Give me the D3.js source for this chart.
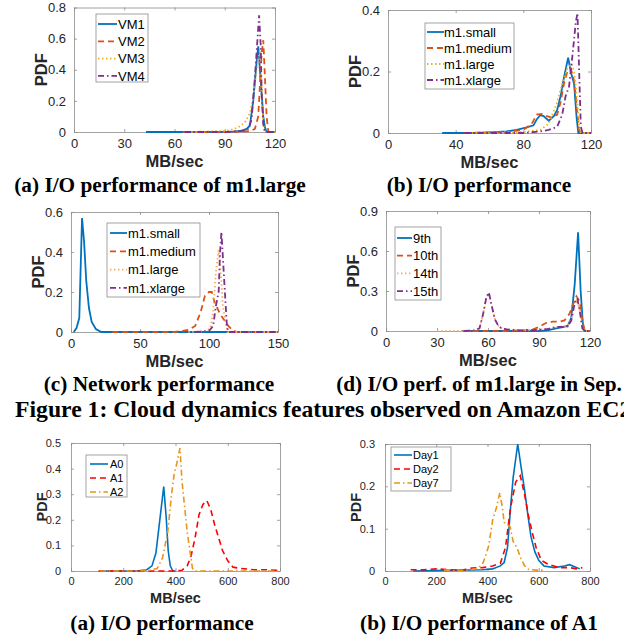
<!DOCTYPE html>
<html>
<head>
<meta charset="utf-8">
<script src="https://cdn.jsdelivr.net/npm/d3@7"></script>
<style>
body { margin: 0; background: #fff; }
text { font-family: "Liberation Sans", Arial, sans-serif; }
.cap { font-family: "Liberation Serif", "Times New Roman", serif; font-weight: bold; }
</style>
</head>
<body>
<div id="chart"></div>
<script>
// ---- data ([MB/sec, PDF]) ----
// (a) I/O performance of m1.large
var aVM1 = [[43,0],[60,0],[80,0],[95,0.002],[100,0.008],[103,0.02],[105,0.04],[107,0.2],[109,0.45],[110,0.55],[111,0.4],[112,0.25],[113,0.1],[114,0.03],[115,0],[120,0]];
var aVM2 = [[65,0],[90,0],[105,0.005],[108,0.02],[110,0.1],[111,0.3],[112,0.5],[113,0.59],[114,0.35],[115,0.1],[116,0],[120,0]];
var aVM3 = [[70,0],[85,0.005],[93,0.01],[98,0.03],[102,0.06],[105,0.12],[107,0.22],[109,0.4],[111,0.52],[112,0.3],[113,0.05],[114,0],[120,0]];
var aVM4 = [[66,0],[90,0],[100,0.005],[104,0.02],[106,0.08],[108,0.35],[110.5,0.75],[111.5,0.55],[112,0.25],[113,0.05],[114,0],[120,0]];

// (b) I/O performance
var bSmall = [[32,0],[50,0],[60,0.002],[70,0.005],[76,0.01],[82,0.018],[86,0.025],[88,0.045],[90,0.058],[92,0.055],[95,0.04],[98,0.055],[100,0.075],[102,0.12],[104,0.18],[106.5,0.245],[108,0.2],[110,0.16],[111.5,0.05],[112.5,0],[120,0]];
var bMedium = [[45,0],[70,0.003],[80,0.01],[85,0.03],[88,0.06],[91,0.062],[94,0.055],[97,0.05],[100,0.06],[102,0.1],[104,0.16],[106,0.2],[108,0.21],[110,0.17],[112,0.06],[113,0.01],[114,0],[120,0]];
var bLarge = [[45,0],[80,0.003],[90,0.01],[95,0.03],[100,0.1],[103,0.16],[106,0.21],[108.5,0.225],[110,0.2],[111.5,0.13],[113,0.02],[114,0],[120,0]];
var bXlarge = [[45,0],[80,0],[90,0.005],[95,0.01],[100,0.02],[103,0.06],[105,0.12],[107,0.15],[109,0.25],[111,0.36],[112,0.39],[113,0.2],[114,0.02],[115,0],[120,0]];

// (c) Network performance
var cSmall = [[2,0],[4,0.02],[6,0.07],[8,0.57],[9.5,0.45],[11,0.26],[13,0.12],[15,0.05],[18,0.015],[22,0],[150,0]];
var cMedium = [[30,0],[75,0],[80,0.005],[85,0.01],[90,0.03],[94,0.1],[97,0.18],[100,0.2],[102,0.2],[104,0.15],[106,0.12],[108,0.09],[111,0.06],[114,0.03],[117,0.01],[120,0],[150,0]];
var cLarge = [[85,0],[98,0.005],[101,0.02],[103,0.1],[105,0.3],[107,0.41],[109,0.25],[110,0.13],[112,0.05],[113.5,0],[150,0]];
var cXlarge = [[90,0],[100,0.005],[103,0.03],[105,0.13],[107,0.2],[108,0.4],[109,0.5],[110,0.38],[111.5,0.2],[113,0.03],[114,0],[150,0]];

// (d) I/O perf. of m1.large in Sep.
var d9 = [[45,0],[90,0],[95,0.005],[100,0.02],[104,0.03],[107,0.04],[109,0.1],[111,0.35],[113,0.74],[114.5,0.3],[116,0.02],[117,0],[120,0]];
var d10 = [[45,0],[70,0],[80,0.005],[86,0.01],[90,0.03],[94,0.06],[98,0.07],[102,0.07],[105,0.08],[108,0.13],[110,0.2],[112,0.26],[114,0.22],[115.5,0.08],[117,0],[120,0]];
var d14 = [[30,0],[45,0],[52,0.005],[55,0.02],[57,0.12],[59,0.25],[60.5,0.28],[62,0.2],[64,0.09],[66,0.04],[68,0.02],[72,0.01],[80,0.005],[90,0.01],[96,0.02],[100,0.03],[104,0.035],[107,0.04],[109,0.09],[111,0.2],[112.5,0.23],[114,0.15],[115.5,0.03],[117,0],[120,0]];
var d15 = [[46,0],[52,0.005],[55,0.02],[57,0.12],[59,0.25],[60.5,0.29],[62,0.2],[64,0.09],[66,0.04],[68,0.02],[72,0.01],[80,0.005],[90,0.008],[96,0.015],[100,0.03],[104,0.03],[107,0.035],[109,0.08],[111,0.21],[112.5,0.245],[114,0.15],[115.5,0.02],[117,0],[120,0]];

// (bottom a) I/O performance
var eA0 = [[110,0],[250,0],[290,0.005],[310,0.02],[325,0.07],[340,0.2],[355,0.33],[365,0.2],[372,0.08],[380,0.02],[390,0],[400,0]];
var eA1 = [[105,0],[250,0],[400,0],[425,0.003],[445,0.02],[460,0.06],[475,0.13],[490,0.22],[505,0.26],[520,0.275],[535,0.24],[550,0.18],[565,0.13],[580,0.08],[600,0.04],[620,0.015],[650,0.01],[700,0.005],[750,0.005],[800,0.002]];
var eA2 = [[110,0],[250,0],[300,0.003],[330,0.01],[350,0.05],[370,0.15],[385,0.3],[395,0.38],[405,0.42],[417,0.48],[425,0.35],[435,0.25],[445,0.15],[455,0.08],[465,0.01],[475,0],[800,0]];

// (bottom b) I/O performance of A1
var fDay1 = [[110,0],[200,0.001],[300,0.002],[380,0.003],[420,0.005],[450,0.012],[465,0.02],[478,0.055],[490,0.15],[500,0.22],[518,0.3],[530,0.25],[545,0.19],[558,0.13],[570,0.08],[585,0.045],[600,0.025],[620,0.012],[660,0.008],[700,0.012],[720,0.015],[740,0.01],[760,0.005]];
var fDay2 = [[100,0.003],[150,0.003],[200,0.005],[250,0.003],[300,0.002],[340,0.007],[380,0.008],[420,0.012],[450,0.018],[470,0.055],[490,0.15],[510,0.21],[528,0.225],[545,0.18],[560,0.13],[575,0.09],[590,0.055],[610,0.025],[640,0.015],[680,0.008],[720,0.008],[750,0.005],[770,0.008]];
var fDay7 = [[230,0.002],[280,0.001],[330,0.002],[360,0.006],[380,0.015],[395,0.04],[405,0.06],[420,0.12],[435,0.15],[448,0.185],[458,0.15],[465,0.115],[475,0.11],[488,0.105],[500,0.07],[515,0.055],[530,0.03],[545,0.012],[560,0.004],[590,0.002],[620,0.002]];

// ticks
var ticks120by30 = [0, 30, 60, 90, 120];
var ticks120by40 = [0, 40, 80, 120];
var ticks150 = [0, 50, 100, 150];
var ticks800 = [0, 200, 400, 600, 800];
var yTicksA = [0, 0.2, 0.4, 0.6, 0.8];
var yTicksB = [0, 0.2, 0.4];
var yTicksC = [0, 0.2, 0.4, 0.6];
var yTicksD = [0, 0.3, 0.6, 0.9];
var yTicksE = [0, 0.1, 0.2, 0.3, 0.4, 0.5];
var yTicksF = [0, 0.1, 0.2, 0.3];

// captions
var subCaptions = ["(a) I/O performance of m1.large", "(b) I/O performance", "(c) Network performance",
    "(d) I/O perf. of m1.large in Sep.", "(a) I/O performance", "(b) I/O performance of A1"];
var figCaption = "Figure 1: Cloud dynamics features observed on Amazon EC2";

var blue = "#0072BD", orange = "#D95319", yellow = "#EDB120", purple = "#7E2F8E";
var peach = "#F7AC66", red = "#FF0000", amber = "#E8951C";

var SOLID = null, DASH = "6,4", DOT = "1.5,2.5", DASHDOT = "6,3,1.5,3";

var width = 624;
var height = 636;

var panels = [
    { l: 74, r: 275, t: 7.5, b: 132, xd: [0, 120], yd: [0, 0.8], xt: ticks120by30, yt: yTicksA, small: false,
      leg: { x: 96, y: 14, w: 52, h: 68, r0: 10, step: 17.3, l1: 2, l2: 21, tx: 22 }, cap: { x: 160, y: 192 },
      series: [["VM1", aVM1, blue, SOLID], ["VM2", aVM2, orange, DASH], ["VM3", aVM3, yellow, DOT], ["VM4", aVM4, purple, DASHDOT]] },
    { l: 388, r: 591, t: 10, b: 133, xd: [0, 120], yd: [0, 0.4], xt: ticks120by40, yt: yTicksB, small: false,
      leg: { x: 425, y: 23, w: 89, h: 66, r0: 9, step: 16, l1: 2, l2: 19, tx: 19 }, cap: { x: 479, y: 192 },
      series: [["m1.small", bSmall, blue, SOLID], ["m1.medium", bMedium, orange, DASH], ["m1.large", bLarge, yellow, DOT], ["m1.xlarge", bXlarge, purple, DASHDOT]] },
    { l: 71, r: 278, t: 212, b: 332, xd: [0, 150], yd: [0, 0.6], xt: ticks150, yt: yTicksC, small: false,
      leg: { x: 107, y: 223, w: 93, h: 74, r0: 10, step: 18.3, l1: 3, l2: 20, tx: 21 }, cap: { x: 159, y: 391 },
      series: [["m1.small", cSmall, blue, SOLID], ["m1.medium", cMedium, orange, DASH], ["m1.large", cLarge, peach, DOT], ["m1.xlarge", cXlarge, purple, DASHDOT]] },
    { l: 386, r: 590, t: 211, b: 331, xd: [0, 120], yd: [0, 0.9], xt: ticks120by30, yt: yTicksD, small: false,
      leg: { x: 395, y: 227, w: 46, h: 73, r0: 11, step: 17.7, l1: 2, l2: 17, tx: 18 }, cap: { x: 479, y: 391 },
      series: [["9th", d9, blue, SOLID], ["10th", d10, orange, DASH], ["14th", d14, peach, DOT], ["15th", d15, purple, DASHDOT]] },
    { l: 71, r: 280, t: 443, b: 571, xd: [0, 800], yd: [0, 0.5], xt: ticks800, yt: yTicksE, small: true,
      leg: { x: 86, y: 455, w: 41, h: 42, r0: 9, step: 14, l1: 4, l2: 22, tx: 24 }, cap: { x: 162, y: 630 },
      series: [["A0", eA0, blue, SOLID], ["A1", eA1, red, DASH], ["A2", eA2, amber, DASHDOT]] },
    { l: 385, r: 590, t: 444, b: 571, xd: [0, 800], yd: [0, 0.3], xt: ticks800, yt: yTicksF, small: true,
      leg: { x: 391, y: 447, w: 60, h: 44, r0: 8, step: 14, l1: 3, l2: 21, tx: 22 }, cap: { x: 479, y: 630 },
      series: [["Day1", fDay1, blue, SOLID], ["Day2", fDay2, red, DASH], ["Day7", fDay7, amber, DASHDOT]] }
];

var svg = d3.select("#chart")
    .append("svg")
    .attr("width", width)
    .attr("height", height);

function styleAxis(g, fontSize) {
    g.select(".domain").attr("stroke", "#8c8c8c").attr("stroke-width", 0.8);
    g.selectAll(".tick line").attr("stroke", "#8c8c8c").attr("stroke-width", 0.8);
    g.selectAll(".tick text")
        .attr("fill", "#262626")
        .style("font-size", fontSize + "px")
        .style("font-family", "'Liberation Sans', Arial, sans-serif");
}

function drawPanel(p, i) {
    var x = d3.scaleLinear().domain(p.xd).range([p.l, p.r]);
    var y = d3.scaleLinear().domain(p.yd).range([p.b, p.t]);
    var fs = p.small ? 11 : 13;
    var lw = p.small ? 1.6 : 1.8;
    var titleSize = p.small ? 14.5 : 16.5;

    // axes on all four sides, inward ticks
    var gb = svg.append("g").attr("transform", "translate(0," + p.b + ")")
        .call(d3.axisBottom(x).tickValues(p.xt).tickSizeInner(-3).tickSizeOuter(0)
            .tickPadding(p.small ? 6 : 7).tickFormat(String));
    styleAxis(gb, fs);
    var gl = svg.append("g").attr("transform", "translate(" + p.l + ",0)")
        .call(d3.axisLeft(y).tickValues(p.yt).tickSizeInner(-3).tickSizeOuter(0)
            .tickPadding(p.small ? 10 : 8).tickFormat(String));
    styleAxis(gl, fs);
    var gt = svg.append("g").attr("transform", "translate(0," + p.t + ")")
        .call(d3.axisTop(x).tickValues(p.xt).tickSizeInner(-3).tickSizeOuter(0).tickFormat(""));
    styleAxis(gt, fs);
    var gr = svg.append("g").attr("transform", "translate(" + p.r + ",0)")
        .call(d3.axisRight(y).tickValues(p.yt).tickSizeInner(-3).tickSizeOuter(0).tickFormat(""));
    styleAxis(gr, fs);

    // axis titles
    svg.append("text")
        .attr("x", (p.l + p.r) / 2)
        .attr("y", p.b + (p.small ? 32 : 35))
        .attr("text-anchor", "middle")
        .attr("fill", "#262626")
        .style("font-weight", "bold")
        .style("font-size", titleSize + "px")
        .text("MB/sec");
    svg.append("text")
        .attr("transform", "translate(" + (p.l - (p.small ? 24 : 27)) + "," + ((p.t + p.b) / 2) + ") rotate(-90)")
        .attr("text-anchor", "middle")
        .attr("fill", "#262626")
        .style("font-weight", "bold")
        .style("font-size", titleSize + "px")
        .text("PDF");

    // curves
    var line = d3.line()
        .x(function (d) { return x(d[0]); })
        .y(function (d) { return y(d[1]); });

    p.series.forEach(function (s) {
        svg.append("path")
            .datum(s[1])
            .attr("d", line)
            .attr("fill", "none")
            .attr("stroke", s[2])
            .attr("stroke-width", lw)
            .attr("stroke-dasharray", s[3]);
    });

    // legend
    var L = p.leg;
    svg.append("rect")
        .attr("x", L.x).attr("y", L.y)
        .attr("width", L.w).attr("height", L.h)
        .attr("fill", "#fff")
        .attr("stroke", "#8c8c8c")
        .attr("stroke-width", 0.8);
    p.series.forEach(function (s, k) {
        var yy = L.y + L.r0 + k * L.step;
        svg.append("line")
            .attr("x1", L.x + L.l1).attr("x2", L.x + L.l2)
            .attr("y1", yy).attr("y2", yy)
            .attr("stroke", s[2])
            .attr("stroke-width", lw)
            .attr("stroke-dasharray", s[3]);
        svg.append("text")
            .attr("x", L.x + L.tx).attr("y", yy)
            .attr("dy", "0.36em")
            .attr("fill", "#000")
            .style("font-size", (p.small ? 11 : 13) + "px")
            .text(s[0]);
    });

    // sub caption
    svg.append("text")
        .attr("class", "cap")
        .attr("x", p.cap.x).attr("y", p.cap.y)
        .attr("text-anchor", "middle")
        .style("font-size", "21.3px")
        .text(subCaptions[i]);
}

panels.forEach(drawPanel);

// figure caption runs past the right edge, as in the source page
svg.append("text")
    .attr("class", "cap")
    .attr("x", 15).attr("y", 417)
    .style("font-size", "23.7px")
    .text(figCaption);
</script>
</body>
</html>
